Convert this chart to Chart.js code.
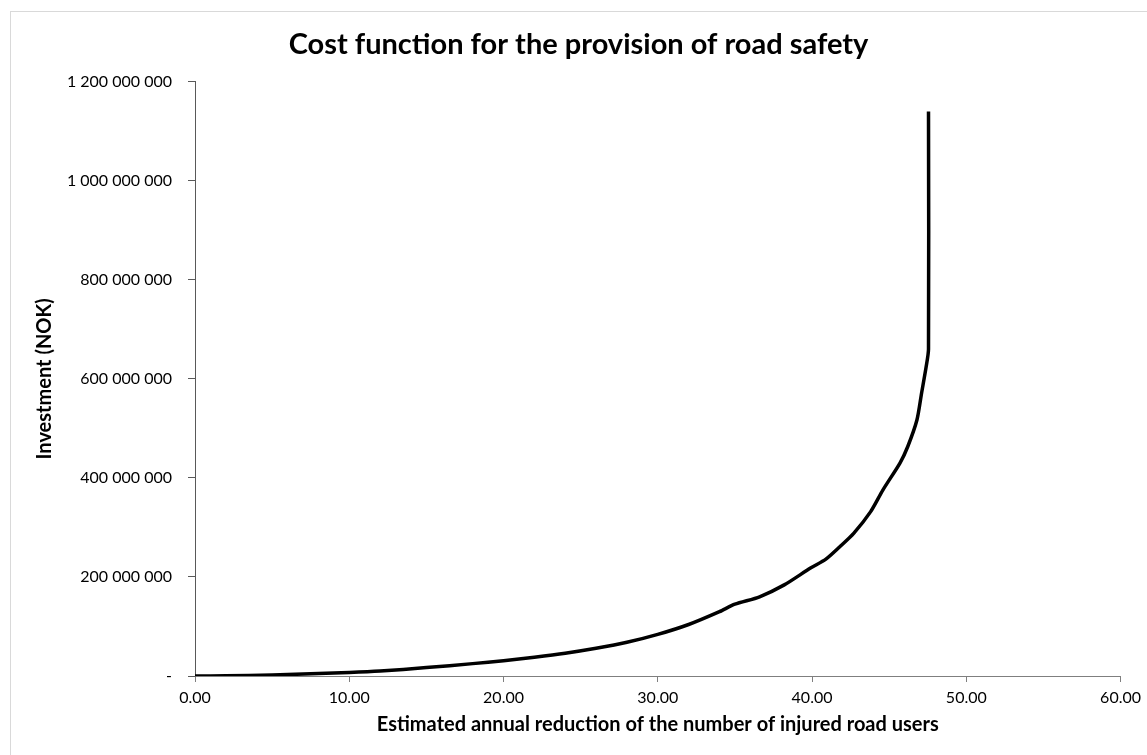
<!DOCTYPE html>
<html>
<head>
<meta charset="utf-8">
<script src="https://cdn.jsdelivr.net/npm/chart.js@4.4.1/dist/chart.umd.min.js"></script>
<style>
    body { margin: 0; background: #fff; }
    #wrap { position: relative; width: 1147px; height: 755px; overflow: hidden; }
    #frame { position: absolute; left: 10px; top: 11px; width: 1200px; height: 800px; border: 1px solid #d9d9d9; box-sizing: border-box; }
    #chart { position: absolute; left: 0; top: 0; }
</style>
</head>
<body>
<div id="wrap">
    <div id="frame"></div>
    <canvas id="chart" width="1147" height="755"></canvas>
</div>
<script>
// injured road users avoided per year
const reduction = [0, 2, 5, 8, 10, 12, 15, 18, 20, 22, 24, 26, 28, 30, 32, 34, 35, 36.6, 38.2, 39.9, 40.9, 41.8, 42.7, 43.8, 44.6, 45.7, 46.2, 46.8, 47.1, 47.4, 47.55, 47.55];
// investment in million NOK
const investmentMill = [0, 0.5, 2, 5, 7, 10, 17, 25, 31, 38, 46, 56, 68, 84, 104, 130, 145, 160, 184, 218, 236, 261, 288, 332, 376, 430, 463, 517, 571, 625, 660, 1140];

const xTicks = [0, 10, 20, 30, 40, 50, 60];
const yTicks = [0, 200000000, 400000000, 600000000, 800000000, 1000000000, 1200000000];

const points = reduction.map((x, i) => ({ x: x, y: investmentMill[i] * 1000000 }));

function fmtNok(v) {
    if (v === 0) return '-';
    return Math.round(v).toString().replace(/\B(?=(\d{3})+(?!\d))/g, ' ');
}

const tickFont = { family: 'Lato', size: 16 };
const axisTitleFont = { family: 'Lato', size: 20, weight: 'bold' };

new Chart(document.getElementById('chart'), {
    type: 'line',
    data: {
        datasets: [{
            data: points,
            borderColor: '#000',
            borderWidth: 3.5,
            pointRadius: 0,
            tension: 0.25,
            fill: false
        }]
    },
    options: {
        responsive: false,
        animation: false,
        layout: { padding: { left: 33, right: 23, top: 0, bottom: 18 } },
        plugins: {
            legend: { display: false },
            tooltip: { enabled: false },
            title: {
                display: true,
                text: 'Cost function for the provision of road safety',
                color: '#000',
                font: { family: 'Lato', size: 29, weight: 'bold' },
                padding: { top: 27, bottom: 20 }
            }
        },
        scales: {
            x: {
                type: 'linear',
                min: 0,
                max: 60,
                afterBuildTicks: s => { s.ticks = xTicks.map(v => ({ value: v })); },
                afterFit: s => { s.height = 61; },
                ticks: {
                    color: '#000',
                    font: tickFont,
                    padding: 6,
                    maxRotation: 0,
                    callback: v => v.toFixed(2)
                },
                grid: { drawOnChartArea: false, drawTicks: true, tickLength: 6, color: '#7f7f7f' },
                border: { display: true, color: '#7f7f7f', width: 1 },
                title: {
                    display: true,
                    text: 'Estimated annual reduction of the number of injured road users',
                    color: '#000',
                    font: axisTitleFont,
                    padding: { top: 4, bottom: 0 }
                }
            },
            y: {
                type: 'linear',
                min: 0,
                max: 1200000000,
                afterBuildTicks: s => { s.ticks = yTicks.map(v => ({ value: v })); },
                afterFit: s => { s.width = 162; },
                ticks: {
                    color: '#000',
                    font: tickFont,
                    padding: 16,
                    callback: v => fmtNok(v)
                },
                grid: { drawOnChartArea: false, drawTicks: true, tickLength: 7, color: '#595959' },
                border: { display: true, color: '#595959', width: 1 },
                title: {
                    display: true,
                    text: 'Investment (NOK)',
                    color: '#000',
                    font: axisTitleFont,
                    padding: { top: 0, bottom: 0 }
                }
            }
        }
    }
});
</script>
</body>
</html>
